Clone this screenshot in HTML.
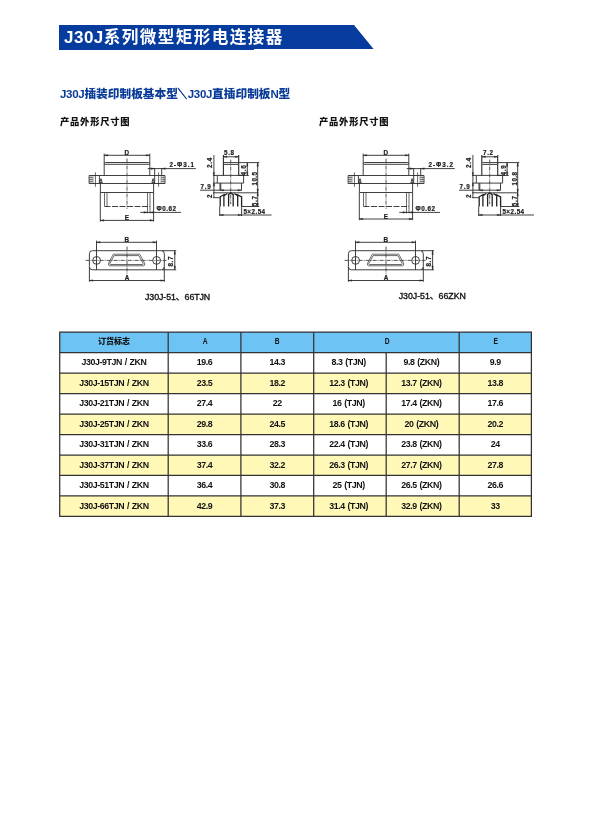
<!DOCTYPE html>
<html lang="zh-CN">
<head>
<meta charset="utf-8">
<title>J30J系列微型矩形电连接器</title>
<style>
html,body{margin:0;padding:0;background:#fff;}
body{width:613px;height:825px;position:relative;overflow:hidden;font-family:"Liberation Sans","Noto Sans CJK SC",sans-serif;color:#111;}
.abs{position:absolute;white-space:nowrap;transform:translateZ(0);will-change:transform;}
#banner{position:absolute;left:59px;top:25px;width:315px;height:25px;background:#063c9e;clip-path:polygon(0 0,295px 0,314.6px 24px,195px 24px,195px 25px,0 25px);}
#title{left:64px;top:26px;height:24px;line-height:24px;color:#fff;font-weight:bold;font-size:16.6px;letter-spacing:1.4px;}
#title .l{font-size:17px;letter-spacing:0.5px;}
#sub{left:60px;top:85.6px;line-height:16px;color:#093b99;font-weight:900;font-size:11.7px;}
#sub .l{font-size:11.5px;letter-spacing:-0.3px;}
#sub .b{display:inline-block;width:9.8px;text-align:center;text-indent:-1.6px;transform:scaleX(0.78);-webkit-text-stroke:0.6px #093b99;}
.cap{top:115.1px;line-height:14px;font-weight:900;font-size:9.3px;letter-spacing:0.75px;color:#111;}
table{position:absolute;left:59.7px;top:332.2px;transform:translateZ(0);border-collapse:collapse;border-spacing:0;table-layout:fixed;width:471.7px;font-family:"Liberation Sans","Noto Sans CJK SC",sans-serif;font-size:8.8px;font-weight:bold;color:#111;letter-spacing:-0.4px;word-spacing:0.7px;}
td,th{border:0;height:20.47px;padding:0 0 1.2px 0;box-sizing:border-box;text-align:center;vertical-align:middle;line-height:10px;}
th{background:#6cc3f4;}
th span{font-weight:900;font-size:8px;letter-spacing:0;}
th b{display:inline-block;transform:scaleX(0.78);font-size:8.6px;position:relative;top:-0.4px;}
td:nth-child(4),td:nth-child(5){padding-right:2.6px;}
tr.y td{background:#fff8b6;}
svg{position:absolute;left:0;top:0;transform:translateZ(0);will-change:transform;}
svg path,svg rect,svg circle{fill:none;stroke:#2a2a2a;stroke-width:0.9;}
svg.grid path{stroke:#333;stroke-width:1.25;}
svg path.ah{fill:#2a2a2a;stroke-width:0.3;}
svg path.c{stroke-dasharray:4 1 1 1;stroke-width:0.9;stroke:#444;}
svg path.d{stroke-dasharray:6 1.5;}
svg path.n{stroke-width:0.7;}
svg path.k{stroke-width:1.1;}
svg path.t{stroke-width:0.5;}
svg path.p{stroke-width:1.3;stroke:#222;}
svg text{font-family:"Liberation Sans","Noto Sans CJK SC",sans-serif;font-size:6.3px;font-weight:bold;fill:#1a1a1a;letter-spacing:0.7px;stroke:#1a1a1a;stroke-width:0.2px;}
svg text.cp{font-size:8.8px;letter-spacing:0;fill:#111;font-weight:normal;stroke:#111;stroke-width:0.35px;}
</style>
</head>
<body>
<div id="banner"></div>
<div id="title" class="abs"><span class="l">J30J</span>系列微型矩形电连接器</div>
<div id="sub" class="abs"><span class="l">J30J</span>插装印制板基本型<span class="b">＼</span><span class="l">J30J</span>直插印制板<span class="l">N</span>型</div>
<div class="abs cap" style="left:60.4px">产品外形尺寸图</div>
<div class="abs cap" style="left:319.4px">产品外形尺寸图</div>
<svg width="613" height="825" viewBox="0 0 613 825">
<g transform="translate(0 0)">
<path d="M104.2 155.3H149.8"/><path class="ah" d="M104.2 155.3l3.6 -0.8v1.6z"/><path class="ah" d="M149.8 155.3l-3.6 -0.8v1.6z"/>
<path d="M104.2 153.6V175.5M149.8 153.6V175.5"/>
<path d="M104.2 163.6q0.2-1.1 1.3-1.1H148.5q1.1 0 1.3 1.1"/>
<path d="M104.6 164.3H149.4"/>
<path d="M89.1 175.5H165V183.5H89.1zM99.4 175.5V183.5M154.7 175.5V183.5"/>
<path d="M99.8 182.6l1.2-4l1.2 4zM154.3 182.6l-1.2-4l-1.2 4z"/>
<path class="t" d="M93 175.5V183.5M161.1 175.5V183.5M89.1 177.5H93M89.1 179.5H93M89.1 181.5H93M91 175.5V183.5M161.1 177.5H165M161.1 179.5H165M161.1 181.5H165M163.1 175.5V183.5"/>
<path class="n" d="M95.45 172.4V186.8M158.6 172.4V186.8"/>
<path d="M100.4 183.5V192.5H153.6V183.5"/>
<path class="n" d="M104.5 192.5V206.4M107 192.5V206.4M150 192.5V213.4M147.5 192.5V213.4"/>
<path class="d" d="M104.5 206.5H150"/>
<path class="c" d="M127 158.6V208.8"/>
<path d="M100.3 192.5V221.6M153.6 192.5V221.6"/>
<path d="M100.3 220.4H153.6"/><path class="ah" d="M100.3 220.4l3.6 -0.8v1.6z"/><path class="ah" d="M153.6 220.4l-3.6 -0.8v1.6z"/>
<path d="M147.8 168.6H195.8M154.7 168.6V175.5M161.7 168.6V175.5"/>
<path class="ah" d="M154.7 168.6l-3.6 -0.8v1.6z"/><path class="ah" d="M161.7 168.6l3.6 -0.8v1.6z"/>
<path d="M140.3 212.4H181"/>
<path class="ah" d="M147.5 212.4l-3.6 -0.8v1.6z"/><path class="ah" d="M150 212.4l3.6 -0.8v1.6z"/>
<text x="127.2" y="155" text-anchor="middle">D</text>
<text x="127.2" y="220.1" text-anchor="middle">E</text>
<text x="169.4" y="167" textLength="25.4">2-Φ3.1</text>
<text x="156.6" y="211.4" textLength="20">Φ0.62</text>
<path d="M223.4 156.8H238.7"/><path class="ah" d="M223.4 156.8l3.6 -0.8v1.6z"/><path class="ah" d="M238.7 156.8l-3.6 -0.8v1.6z"/>
<path class="k" d="M223.4 155V175.4M238.7 155V175.4"/>
<path d="M224.0 162.6H238.7M224.0 164.4H238.2"/>
<path d="M217.3 175.4H243.6V183.1H217.3zM213 175.4H217.3M213 183.1H217.3"/>
<path d="M220 183.1V190.2M220.8 183.1V190.2M241.5 183.1V190.2"/>
<path d="M200 190.2H241.6"/><path class="ah" d="M220 190.2l3.6 -0.8v1.6z"/><path class="ah" d="M241.5 190.2l-3.6 -0.8v1.6z"/>
<path d="M213 192.8H258.5"/>
<path d="M213.9 155V197.7M213 197.7H219.9"/>
<path class="ah" d="M213.9 175.4l-0.8 -3h1.6z"/><path class="ah" d="M213.9 183.1l-0.8 3h1.6z"/>
<path class="p" d="M220.2 206.4V196.8L224.8 194.3M223.9 206.4V195.6L227.4 193.5M228.6 206.4V194.6L230.7 192.9L233.2 194.6V206.4M237.7 206.4V195.6L234.2 193.5M241.6 206.4V196.8L236.6 194.3"/>
<path class="c" d="M230.7 159.6V204"/>
<path d="M219.7 206.4V216M241.6 206.4V216"/>
<path d="M219.7 215H271.6"/><path class="ah" d="M219.7 215l3.6 -0.8v1.6z"/><path class="ah" d="M241.6 215l-3.6 -0.8v1.6z"/>
<path d="M238.7 162.6H259.3M238.7 175.4H248.9M241.6 206.5H259.3"/>
<path d="M247.3 162.6V175.4"/><path class="ah" d="M247.3 162.6l-0.8 3.6h1.6z"/><path class="ah" d="M247.3 175.4l-0.8 -3.6h1.6z"/>
<path d="M257.7 162.6V192.8"/><path class="ah" d="M257.7 162.6l-0.8 3.6h1.6z"/><path class="ah" d="M257.7 192.8l-0.8 -3.6h1.6z"/>
<path d="M257.7 192.8V206.5"/><path class="ah" d="M257.7 192.8l-0.8 3h1.6z"/><path class="ah" d="M257.7 206.5l-0.8 -3h1.6z"/>
<text x="229.4" y="155.4" text-anchor="middle">5.8</text>
<text x="200.6" y="189.2">7.9</text>
<text x="243.4" y="213.8" textLength="22.4">5×2.54</text>
<text transform="translate(212.4 162.6) rotate(-90)" text-anchor="middle">2.4</text>
<text transform="translate(212.4 195.8) rotate(-90)" text-anchor="middle">2</text>
<text transform="translate(245.70000000000002 170) rotate(-90)" text-anchor="middle">4.6</text>
<text transform="translate(256.7 178.4) rotate(-90)" text-anchor="middle" textLength="14">10.5</text>
<text transform="translate(256.7 200.8) rotate(-90)" text-anchor="middle">5.7</text>
<path d="M96.5 242.3H156.5"/><path class="ah" d="M96.5 242.3l3.6 -0.8v1.6z"/><path class="ah" d="M156.5 242.3l-3.6 -0.8v1.6z"/>
<path d="M96.5 240.6V269.8M156.5 240.6V269.8"/>
<rect x="89.4" y="250.7" width="74.9" height="19.1" rx="3"/>
<circle cx="96.6" cy="260.4" r="3.9"/><circle cx="156.6" cy="260.4" r="3.9"/>
<path class="n" d="M113.3 254.2H139.7L144.6 263.2Q145.2 265.8 143.6 265.8H109.6Q108 265.8 108.6 263.2z"/>
<path class="n" d="M114.2 255.6H138.8L143.1 263.4Q143.5 264.5 142.5 264.5H110.5Q109.5 264.5 109.9 263.4z"/>
<path class="c" d="M85.6 260.4H167.6M127 246.6V274.8"/>
<path d="M89.4 267V281.8M164.3 267V281.8"/>
<path d="M89.4 280.5H164.3"/><path class="ah" d="M89.4 280.5l3.6 -0.8v1.6z"/><path class="ah" d="M164.3 280.5l-3.6 -0.8v1.6z"/>
<path d="M162 250.7H176.2M162 269.8H176.2"/>
<path d="M174.8 250.7V269.8"/><path class="ah" d="M174.8 250.7l-0.8 3.6h1.6z"/><path class="ah" d="M174.8 269.8l-0.8 -3.6h1.6z"/>
<text x="127.2" y="241.9" text-anchor="middle">B</text>
<text x="127.4" y="279.9" text-anchor="middle">A</text>
<text transform="translate(173 261.2) rotate(-90)" text-anchor="middle">8.7</text>
<text class="cp" x="145" y="299.6" textLength="65.2">J30J-51、66TJN</text>
</g>
<g transform="translate(259 0)">
<path d="M104.2 155.3H149.8"/><path class="ah" d="M104.2 155.3l3.6 -0.8v1.6z"/><path class="ah" d="M149.8 155.3l-3.6 -0.8v1.6z"/>
<path d="M104.2 153.6V175.5M149.8 153.6V175.5"/>
<path d="M104.2 163.6q0.2-1.1 1.3-1.1H148.5q1.1 0 1.3 1.1"/>
<path d="M104.6 164.3H149.4"/>
<path d="M89.1 175.5H165V183.5H89.1zM99.4 175.5V183.5M154.7 175.5V183.5"/>
<path d="M99.8 182.6l1.2-4l1.2 4zM154.3 182.6l-1.2-4l-1.2 4z"/>
<path class="t" d="M93 175.5V183.5M161.1 175.5V183.5M89.1 177.5H93M89.1 179.5H93M89.1 181.5H93M91 175.5V183.5M161.1 177.5H165M161.1 179.5H165M161.1 181.5H165M163.1 175.5V183.5"/>
<path class="n" d="M95.45 172.4V186.8M158.6 172.4V186.8"/>
<path d="M100.4 183.5V192.5H153.6V183.5"/>
<path class="n" d="M104.5 192.5V206.4M107 192.5V206.4M150 192.5V213.4M147.5 192.5V213.4"/>
<path class="d" d="M104.5 206.5H150"/>
<path class="c" d="M127 158.6V208.8"/>
<path d="M100.3 192.5V220.2M153.6 192.5V220.2"/>
<path d="M100.3 219H153.6"/><path class="ah" d="M100.3 219l3.6 -0.8v1.6z"/><path class="ah" d="M153.6 219l-3.6 -0.8v1.6z"/>
<path d="M147.8 168.6H195.8M154.7 168.6V175.5M161.7 168.6V175.5"/>
<path class="ah" d="M154.7 168.6l-3.6 -0.8v1.6z"/><path class="ah" d="M161.7 168.6l3.6 -0.8v1.6z"/>
<path d="M140.3 212.4H181"/>
<path class="ah" d="M147.5 212.4l-3.6 -0.8v1.6z"/><path class="ah" d="M150 212.4l3.6 -0.8v1.6z"/>
<text x="127.2" y="155" text-anchor="middle">D</text>
<text x="127.2" y="218.7" text-anchor="middle">E</text>
<text x="169.4" y="167" textLength="25.4">2-Φ3.2</text>
<text x="156.6" y="211.4" textLength="20">Φ0.62</text>
<path d="M222.8 156.8H238.7"/><path class="ah" d="M222.8 156.8l3.6 -0.8v1.6z"/><path class="ah" d="M238.7 156.8l-3.6 -0.8v1.6z"/>
<path class="k" d="M222.8 155V175.4M238.7 155V175.4"/>
<path d="M223.4 162.6H238.7M223.4 164.4H238.2"/>
<path d="M217.3 175.4H243.6V183.1H217.3zM213 175.4H217.3M213 183.1H217.3"/>
<path d="M220 183.1V190.2M220.8 183.1V190.2M241.5 183.1V190.2"/>
<path d="M200 190.2H241.6"/><path class="ah" d="M220 190.2l3.6 -0.8v1.6z"/><path class="ah" d="M241.5 190.2l-3.6 -0.8v1.6z"/>
<path d="M213 192.8H258.5"/>
<path d="M213.9 155V197.7M213 197.7H219.9"/>
<path class="ah" d="M213.9 175.4l-0.8 -3h1.6z"/><path class="ah" d="M213.9 183.1l-0.8 3h1.6z"/>
<path class="p" d="M220.2 206.4V196.8L224.8 194.3M223.9 206.4V195.6L227.4 193.5M228.6 206.4V194.6L230.7 192.9L233.2 194.6V206.4M237.7 206.4V195.6L234.2 193.5M241.6 206.4V196.8L236.6 194.3"/>
<path class="c" d="M230.7 159.6V204"/>
<path d="M219.7 206.4V216M241.6 206.4V216"/>
<path d="M219.7 215H275"/><path class="ah" d="M219.7 215l3.6 -0.8v1.6z"/><path class="ah" d="M241.6 215l-3.6 -0.8v1.6z"/>
<path d="M238.7 162.6H260.3M238.7 175.4H249.7M241.6 206.5H260.3"/>
<path d="M248.1 162.6V175.4"/><path class="ah" d="M248.1 162.6l-0.8 3.6h1.6z"/><path class="ah" d="M248.1 175.4l-0.8 -3.6h1.6z"/>
<path d="M258.7 162.6V192.8"/><path class="ah" d="M258.7 162.6l-0.8 3.6h1.6z"/><path class="ah" d="M258.7 192.8l-0.8 -3.6h1.6z"/>
<path d="M258.7 192.8V206.5"/><path class="ah" d="M258.7 192.8l-0.8 3h1.6z"/><path class="ah" d="M258.7 206.5l-0.8 -3h1.6z"/>
<text x="229.4" y="155.4" text-anchor="middle">7.2</text>
<text x="200.6" y="189.2">7.9</text>
<text x="243.4" y="213.8" textLength="22.4">5×2.54</text>
<text transform="translate(212.4 162.6) rotate(-90)" text-anchor="middle">2.4</text>
<text transform="translate(212.4 195.8) rotate(-90)" text-anchor="middle">2</text>
<text transform="translate(246.5 170) rotate(-90)" text-anchor="middle">4.9</text>
<text transform="translate(257.7 178.4) rotate(-90)" text-anchor="middle" textLength="14">10.8</text>
<text transform="translate(257.7 200.8) rotate(-90)" text-anchor="middle">5.7</text>
<path d="M96.5 242.3H156.5"/><path class="ah" d="M96.5 242.3l3.6 -0.8v1.6z"/><path class="ah" d="M156.5 242.3l-3.6 -0.8v1.6z"/>
<path d="M96.5 240.6V269.8M156.5 240.6V269.8"/>
<rect x="89.4" y="250.7" width="74.9" height="19.1" rx="3"/>
<circle cx="96.6" cy="260.4" r="3.9"/><circle cx="156.6" cy="260.4" r="3.9"/>
<path class="n" d="M113.3 254.2H139.7L144.6 263.2Q145.2 265.8 143.6 265.8H109.6Q108 265.8 108.6 263.2z"/>
<path class="n" d="M114.2 255.6H138.8L143.1 263.4Q143.5 264.5 142.5 264.5H110.5Q109.5 264.5 109.9 263.4z"/>
<path class="c" d="M85.6 260.4H167.6M127 246.6V274.8"/>
<path d="M89.4 267V281.8M164.3 267V281.8"/>
<path d="M89.4 280.5H164.3"/><path class="ah" d="M89.4 280.5l3.6 -0.8v1.6z"/><path class="ah" d="M164.3 280.5l-3.6 -0.8v1.6z"/>
<path d="M162 250.7H175.0M162 269.8H175.0"/>
<path d="M173.60000000000002 250.7V269.8"/><path class="ah" d="M173.60000000000002 250.7l-0.8 3.6h1.6z"/><path class="ah" d="M173.60000000000002 269.8l-0.8 -3.6h1.6z"/>
<text x="127.2" y="241.9" text-anchor="middle">B</text>
<text x="127.4" y="279.9" text-anchor="middle">A</text>
<text transform="translate(171.8 261.2) rotate(-90)" text-anchor="middle">8.7</text>
<text class="cp" x="139.7" y="298.6" textLength="67.2">J30J-51、66ZKN</text>
</g>
</svg>
<table>
<colgroup><col style="width:108.5px"><col style="width:72.7px"><col style="width:72.8px"><col style="width:72.5px"><col style="width:73px"><col style="width:72.2px"></colgroup>
<tr><th><span>订货标志</span></th><th><b>A</b></th><th><b>B</b></th><th colspan="2"><b>D</b></th><th><b>E</b></th></tr>
<tr><td>J30J-9TJN / ZKN</td><td>19.6</td><td>14.3</td><td>8.3 (TJN)</td><td>9.8 (ZKN)</td><td>9.9</td></tr>
<tr class="y"><td>J30J-15TJN / ZKN</td><td>23.5</td><td>18.2</td><td>12.3 (TJN)</td><td>13.7 (ZKN)</td><td>13.8</td></tr>
<tr><td>J30J-21TJN / ZKN</td><td>27.4</td><td>22</td><td>16 (TJN)</td><td>17.4 (ZKN)</td><td>17.6</td></tr>
<tr class="y"><td>J30J-25TJN / ZKN</td><td>29.8</td><td>24.5</td><td>18.6 (TJN)</td><td>20 (ZKN)</td><td>20.2</td></tr>
<tr><td>J30J-31TJN / ZKN</td><td>33.6</td><td>28.3</td><td>22.4 (TJN)</td><td>23.8 (ZKN)</td><td>24</td></tr>
<tr class="y"><td>J30J-37TJN / ZKN</td><td>37.4</td><td>32.2</td><td>26.3 (TJN)</td><td>27.7 (ZKN)</td><td>27.8</td></tr>
<tr><td>J30J-51TJN / ZKN</td><td>36.4</td><td>30.8</td><td>25 (TJN)</td><td>26.5 (ZKN)</td><td>26.6</td></tr>
<tr class="y"><td>J30J-66TJN / ZKN</td><td>42.9</td><td>37.3</td><td>31.4 (TJN)</td><td>32.9 (ZKN)</td><td>33</td></tr>
</table>
<svg class="grid" width="613" height="825" viewBox="0 0 613 825"><path d="M59.1 332.20H532M59.1 352.67H532M59.1 373.14H532M59.1 393.61H532M59.1 414.08H532M59.1 434.55H532M59.1 455.02H532M59.1 475.49H532M59.1 495.96H532M59.1 516.43H532M59.7 332.20V516.43M168.2 332.20V516.43M240.9 332.20V516.43M313.7 332.20V516.43M386.2 352.67V516.43M459.2 332.20V516.43M531.4 332.20V516.43"/></svg>
</body>
</html>
